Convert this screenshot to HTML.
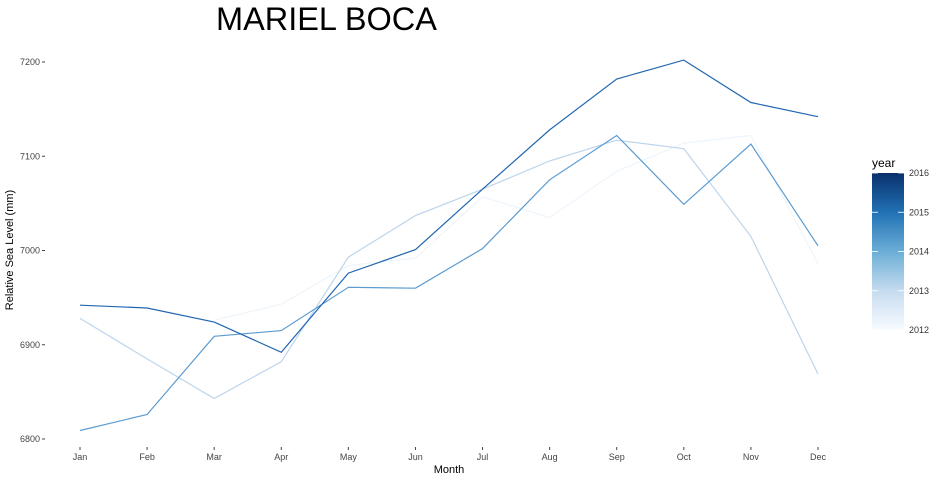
<!DOCTYPE html>
<html><head><meta charset="utf-8"><style>
body{margin:0;background:#fff;font-family:"Liberation Sans",sans-serif}
</style></head><body>
<svg id="c" width="940" height="480" xmlns="http://www.w3.org/2000/svg">
<defs><linearGradient id="g" x1="0" y1="1" x2="0" y2="0">
<stop offset="0" stop-color="#f7fbff"/><stop offset="0.25" stop-color="#c6dbef"/>
<stop offset="0.5" stop-color="#6baed6"/><stop offset="0.75" stop-color="#2171b5"/><stop offset="1" stop-color="#08306b"/></linearGradient></defs>
<text x="216" y="30" font-size="32.5" fill="#000">MARIEL BOCA</text>
<g id="ax"></g><g id="lines"></g>
<text x="872" y="167" font-size="12">year</text>
<rect x="872" y="173" width="32" height="157" fill="url(#g)"/>
<g id="leg"></g>
</svg>
<script>
const months=["Jan","Feb","Mar","Apr","May","Jun","Jul","Aug","Sep","Oct","Nov","Dec"];
const yTicks=[6800,6900,7000,7100,7200];
const years=[2012,2013,2014,2015];
const s2012=[null,null,6926,6943,6984,6992,7057,7035,7084,7114,7122,6986];
const s2013=[6928,6885,6843,6882,6993,7037,7065,7095,7117,7108,7015,6869];
const s2014=[6809,6826,6909,6915,6961,6960,7002,7075,7122,7049,7113,7005];
const s2015=[6942,6939,6924,6892,6976,7001,7065,7128,7182,7202,7157,7142];
const colors=["#eef5fc","#bdd5ec","#5b9bd0","#2166b0"];
const series=[s2012,s2013,s2014,s2015];
const NS="http://www.w3.org/2000/svg";
const x=i=>80+i*(818-80)/11;
const y=v=>439-(v-6800)*(439-62)/400;
const ax=document.getElementById('ax');
function mk(tag,attrs,parent,txt){const e=document.createElementNS(NS,tag);for(const k in attrs)e.setAttribute(k,attrs[k]);if(txt!==undefined)e.textContent=txt;parent.appendChild(e);return e;}
yTicks.forEach(t=>{
 const l=mk('text',{x:40,y:y(t)+3,'font-size':9,fill:'#444','text-anchor':'end'},ax,t);
 
 
 mk('line',{x1:42,x2:45,y1:y(t),y2:y(t),stroke:'#444'},ax);
});
months.forEach((m,i)=>{
 mk('line',{x1:x(i),x2:x(i),y1:447,y2:450,stroke:'#444'},ax);
 const l=mk('text',{x:x(i),y:460,'font-size':9,fill:'#444','text-anchor':'middle'},ax,m);
 
 
});
const xt=mk('text',{x:449,y:473,'font-size':11,'text-anchor':'middle'},ax,'Month');


const yt=mk('text',{x:0,y:0,'font-size':11,'text-anchor':'middle',transform:'translate(13,250) rotate(-90)'},ax,'Relative Sea Level (mm)');


const lg=document.getElementById('lines');
series.forEach((s,k)=>{
 let d='';s.forEach((v,i)=>{if(v==null)return;d+=(d?'L':'M')+x(i).toFixed(1)+','+y(v).toFixed(1);});
 const p=mk('path',{d:d,fill:'none',stroke:colors[k],'stroke-width':1.2},lg);
 
 
});
const leg=document.getElementById('leg');
[2012,2013,2014,2015,2016].forEach((yr,i)=>{
 const yy=330-i*157/4;
 mk('line',{x1:872,x2:878,y1:yy,y2:yy,stroke:'#fff','stroke-width':0.8},leg);
 mk('line',{x1:898,x2:904,y1:yy,y2:yy,stroke:'#fff','stroke-width':0.8},leg);
 const t=mk('text',{x:909,y:yy+3,'font-size':9,fill:'#333'},leg,yr);
 
 
});
</script>
</body></html>
